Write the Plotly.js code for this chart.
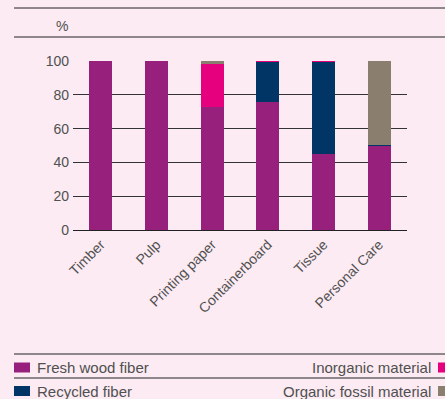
<!DOCTYPE html>
<html><head><meta charset="utf-8">
<script src="https://cdn.plot.ly/plotly-3.0.1.min.js"></script>
<style>html,body{margin:0;padding:0;background:#fcebf3;}</style>
</head><body>
<div id="chart" style="width:445px;height:399px;"></div>
<script>
const categories = ["Timber", "Pulp", "Printing paper", "Containerboard", "Tissue", "Personal Care"];
const freshWoodFiber = [100, 100, 72.5, 76, 45, 49.5];
const recycledFiber = [0, 0, 0, 23.5, 54.5, 1];
const inorganicMaterial = [0, 0, 26, 0.5, 0.5, 0];
const organicFossilMaterial = [0, 0, 1.5, 0, 0, 49.5];
const seriesNames = ["Fresh wood fiber", "Recycled fiber", "Inorganic material", "Organic fossil material"];
const seriesColors = ["#97207d", "#003566", "#e6007e", "#8a7f6e"];
const yTicks = [0, 20, 40, 60, 80, 100];

const L = 73, R = 407, T = 61, B = 230;
const px = x => (x - L) / (R - L);
const py = y => (B - y) / (B - T);

const seriesVals = [freshWoodFiber, recycledFiber, inorganicMaterial, organicFossilMaterial];
const traces = seriesVals.map((v, i) => ({
  type: "bar", x: categories, y: v, name: seriesNames[i],
  marker: {color: seriesColors[i], line: {width: 0}}, width: 0.41, hoverinfo: "skip"
}));

const fam = "Liberation Sans, Arial, sans-serif";
const tickFont = {family: fam, size: 14, color: "#505050"};
const legFont = {family: fam, size: 15, color: "#505050"};
const shapes = [];
const annotations = [];
const hline = (y) => shapes.push({type: "line", xref: "paper", yref: "paper", x0: px(14), x1: px(445), y0: py(y), y1: py(y), line: {color: "#222", width: 1}});
hline(8); hline(37); hline(354); hline(378);
annotations.push({xref: "paper", yref: "paper", x: px(54), y: py(26), xanchor: "left", yanchor: "middle", text: "%", showarrow: false, font: tickFont});

// legend
const legRows = [{y: 367.5, left: 0, right: 2}, {y: 391, left: 1, right: 3}];
legRows.forEach(r => {
  shapes.push({type: "rect", xref: "paper", yref: "paper", x0: px(14), x1: px(30), y0: py(r.y - 5), y1: py(r.y + 5), fillcolor: seriesColors[r.left], line: {width: 0}});
  annotations.push({xref: "paper", yref: "paper", x: px(35), y: py(r.y), xanchor: "left", yanchor: "middle", text: seriesNames[r.left], showarrow: false, font: legFont});
  shapes.push({type: "rect", xref: "paper", yref: "paper", x0: px(438), x1: px(452), y0: py(r.y - 5), y1: py(r.y + 5), fillcolor: seriesColors[r.right], line: {width: 0}});
  annotations.push({xref: "paper", yref: "paper", x: px(433), y: py(r.y), xanchor: "right", yanchor: "middle", text: seriesNames[r.right], showarrow: false, font: legFont});
});

const layout = {
  width: 445, height: 399,
  margin: {l: L, r: 445 - R, t: T, b: 399 - B, pad: 0},
  paper_bgcolor: "#fcebf3", plot_bgcolor: "#fcebf3",
  barmode: "stack", showlegend: false,
  font: tickFont,
  xaxis: {type: "category", tickangle: -45, showgrid: false, zeroline: false, showline: true, linecolor: "#222", linewidth: 1, ticks: "", tickfont: tickFont, fixedrange: true},
  yaxis: {range: [0, 100], tickvals: yTicks, ticktext: yTicks.map(String), showgrid: true, gridcolor: "#333", gridwidth: 1, zeroline: false, showline: false, ticks: "", ticklabelstandoff: 3, tickfont: tickFont, fixedrange: true},
  shapes: shapes, annotations: annotations
};
Plotly.newPlot("chart", traces, layout, {staticPlot: true, displayModeBar: false});
</script>
</body></html>
